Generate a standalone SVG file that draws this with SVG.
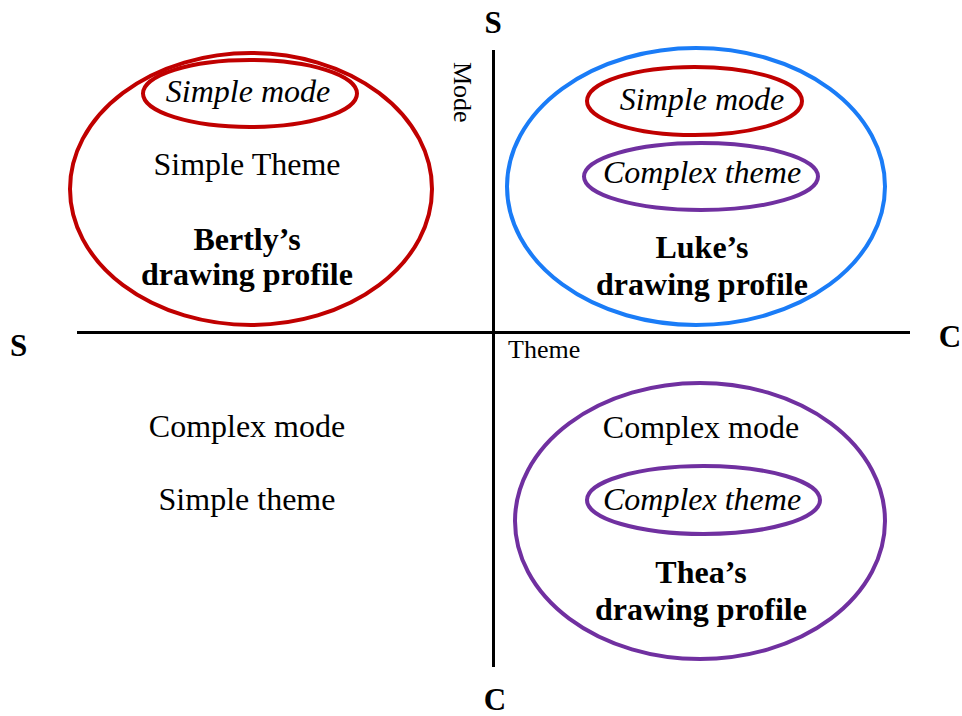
<svg xmlns="http://www.w3.org/2000/svg" width="962" height="716" viewBox="0 0 962 716">
<style>
text{font-family:"Liberation Serif","Times New Roman",serif;fill:#000}
.t{font-size:32px;text-anchor:middle}
.i{font-style:italic}
.b{font-weight:bold}
.ax{font-size:31px;font-weight:bold;text-anchor:middle}
.sm{font-size:26px}
.red{fill:none;stroke:#C00000;stroke-width:4}
.blue{fill:none;stroke:#1A7CF7;stroke-width:4}
.pur{fill:none;stroke:#7030A0;stroke-width:4}
.axis{stroke:#000;stroke-width:3}
</style>
<rect width="962" height="716" fill="#fff"/>
<g id="axes">
<line class="axis" x1="77" y1="332.5" x2="910" y2="332.5"/>
<line class="axis" x1="493.5" y1="50" x2="493.5" y2="667"/>
<text class="ax" x="493" y="33">S</text>
<text class="ax" x="495" y="710">C</text>
<text class="ax" x="18.5" y="356">S</text>
<text class="ax" x="950" y="347">C</text>
<text class="sm" transform="translate(454,62) rotate(90)">Mode</text>
<text class="sm" x="508" y="358">Theme</text>
</g>
<g id="bertly">
<ellipse class="red" cx="251" cy="189" rx="181" ry="136"/>
<ellipse class="red" cx="250" cy="93.5" rx="107" ry="33.5"/>
<text class="t i" x="248" y="102">Simple mode</text>
<text class="t" x="247" y="175">Simple Theme</text>
<text class="t b" x="247" y="250">Bertly’s</text>
<text class="t b" x="247" y="285">drawing profile</text>
</g>
<g id="luke">
<ellipse class="blue" cx="696" cy="186.5" rx="189" ry="138.5"/>
<ellipse class="red" cx="694.5" cy="101" rx="107.5" ry="34"/>
<ellipse class="pur" cx="701" cy="176.5" rx="117" ry="33.5"/>
<text class="t i" x="702" y="110">Simple mode</text>
<text class="t i" x="702" y="183">Complex theme</text>
<text class="t b" x="702" y="258">Luke’s</text>
<text class="t b" x="702" y="295">drawing profile</text>
</g>
<g id="bottomleft">
<text class="t" x="247" y="437">Complex mode</text>
<text class="t" x="247" y="510">Simple theme</text>
</g>
<g id="thea">
<ellipse class="pur" cx="700" cy="521" rx="185" ry="138"/>
<ellipse class="pur" cx="703.5" cy="500" rx="116.5" ry="34"/>
<text class="t" x="701" y="438">Complex mode</text>
<text class="t i" x="702" y="510">Complex theme</text>
<text class="t b" x="701" y="583">Thea’s</text>
<text class="t b" x="701" y="620">drawing profile</text>
</g>
</svg>
